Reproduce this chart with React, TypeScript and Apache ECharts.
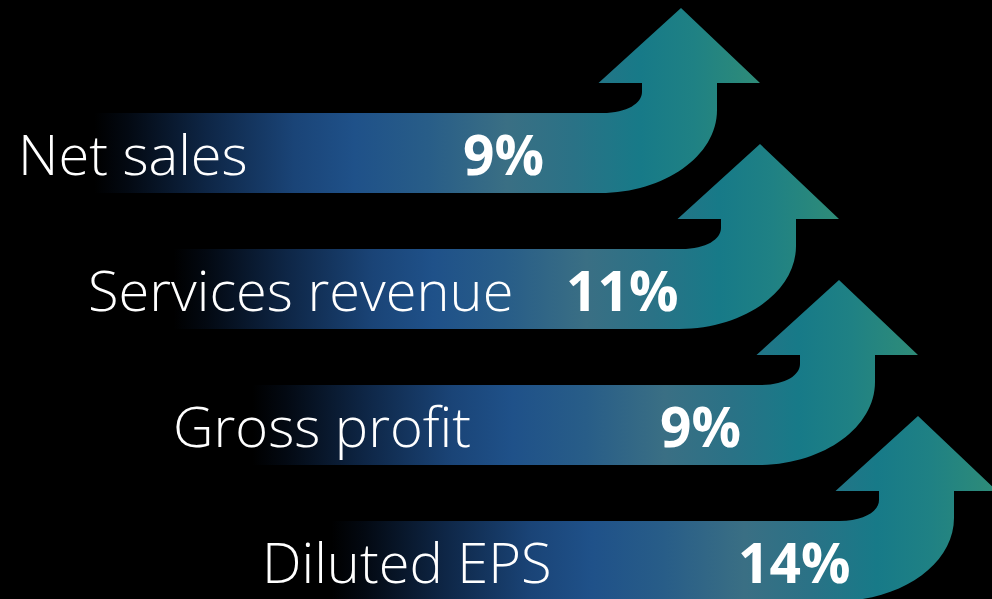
import React, { useEffect, useRef } from "react";
import * as echarts from "echarts";

// ---- data ----
const CATEGORIES = ["Net sales", "Services revenue", "Gross profit", "Diluted EPS"];
const GROWTH = [9, 11, 9, 14];

// ---- layout (pixel positions along the hidden x axis, 0..992) ----
const SHAFT_X = [679.5, 758.5, 837.5, 916.5];
const LABEL_X = [18, 88, 173, 262];
const PCT_X = [463, 566, 660, 738];

const GRADIENT_STOPS = [
  { offset: 0, color: "#000000" },
  { offset: 0.05, color: "#030912" },
  { offset: 0.17, color: "#0e2646" },
  { offset: 0.3, color: "#1a4477" },
  { offset: 0.39, color: "#1f5189" },
  { offset: 0.5, color: "#285d88" },
  { offset: 0.62, color: "#3a6f84" },
  { offset: 0.72, color: "#2a7286" },
  { offset: 0.82, color: "#177a88" },
  { offset: 0.9, color: "#1f8184" },
  { offset: 1, color: "#2f8c78" },
];

function arrowPath(cx: number, cy: number, s: number): string {
  const P = (x: number, y: number) => `${(cx + x * s).toFixed(2)} ${(cy + y * s).toFixed(2)}`;
  const L = -585;
  return [
    `M ${P(L, -40)}`,
    `L ${P(-77, -40)}`,
    `C ${P(-52, -40)} ${P(-37.5, -50)} ${P(-37.5, -61)}`,
    `L ${P(-37.5, -70)}`,
    `L ${P(-81, -70)}`,
    `L ${P(1.5, -145)}`,
    `L ${P(80.5, -70)}`,
    `L ${P(37.5, -70)}`,
    `L ${P(37.5, -43)}`,
    `C ${P(37.5, 3)} ${P(-15, 40)} ${P(-79.5, 40)}`,
    `L ${P(L, 40)}`,
    "Z",
  ].join(" ");
}

export default function App() {
  const ref = useRef<HTMLDivElement>(null);
  useEffect(() => {
    if (!ref.current) return;
    const chart = echarts.init(ref.current, undefined, { renderer: "svg" });
    const option: any = {
      animation: false,
      backgroundColor: "#000000",
      grid: { left: 0, right: 0, top: 85, height: 544, outerBoundsMode: "none", containLabel: false },
      xAxis: { type: "value", min: 0, max: 992, show: false },
      yAxis: { type: "category", data: CATEGORIES, inverse: true, show: false },
      series: [
        {
          type: "custom",
          clip: false,
          encode: { x: 1, y: 0 },
          data: GROWTH.map((v, i) => [i, v]),
          renderItem: (params: any, api: any) => {
            const i = params.dataIndex;
            const idx = api.value(0);
            const val = api.value(1);
            const cy = api.coord([0, idx])[1];
            const band = api.size([0, 1])[1];
            const s = band / 136;
            const cx = api.coord([SHAFT_X[i], idx])[0];
            const lx = api.coord([LABEL_X[i], idx])[0];
            const px = api.coord([PCT_X[i], idx])[0];
            return {
              type: "group",
              children: [
                {
                  type: "path",
                  shape: { pathData: arrowPath(cx, cy, s) },
                  style: {
                    fill: new echarts.graphic.LinearGradient(0, 0, 1, 0, GRADIENT_STOPS),
                  },
                },
                {
                  type: "text",
                  style: {
                    text: CATEGORIES[i],
                    x: lx,
                    y: cy,
                    fill: "#ffffff",
                    fontFamily: "Open Sans",
                    fontWeight: 300,
                    fontSize: 56,
                    align: "left",
                    verticalAlign: "middle",
                  },
                },
                {
                  type: "text",
                  style: {
                    text: `${val}%`,
                    x: px,
                    y: cy,
                    fill: "#ffffff",
                    fontFamily: "Open Sans",
                    fontWeight: "bold",
                    fontSize: 55,
                    align: "left",
                    verticalAlign: "middle",
                  },
                },
              ],
            };
          },
        },
      ],
    };
    chart.setOption(option);
    return () => chart.dispose();
  }, []);
  return (
    <div
      ref={ref}
      style={{ position: "absolute", left: 0, top: 0, width: 992, height: 599, background: "#000" }}
    />
  );
}
